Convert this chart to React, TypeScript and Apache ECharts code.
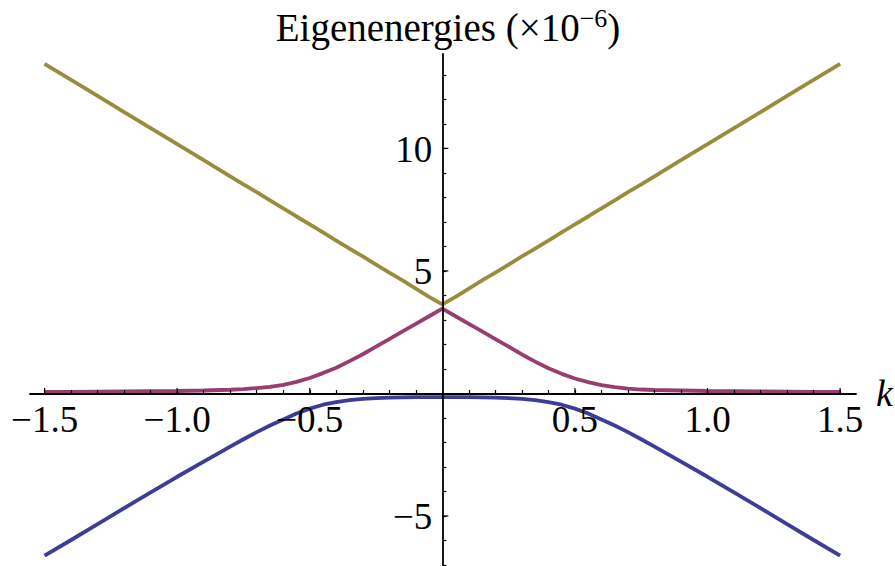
import React, { useEffect, useRef } from "react";
import * as echarts from "echarts";

const kValues = [
  -1.5, -1.4, -1.3, -1.2, -1.1, -1.0, -0.9, -0.8, -0.75, -0.7, -0.65, -0.6, -0.55, -0.5, -0.45, -0.4,
  -0.35, -0.3, -0.25, -0.2, -0.15, -0.1, -0.05, 0, 0.05, 0.1, 0.15, 0.2, 0.25, 0.3, 0.35, 0.4, 0.45,
  0.5, 0.55, 0.6, 0.65, 0.7, 0.75, 0.8, 0.9, 1.0, 1.1, 1.2, 1.3, 1.4, 1.5,
];

const upperLevel = [
  13.45, 12.79, 12.14, 11.48, 10.83, 10.17, 9.52, 8.86, 8.53, 8.21, 7.88, 7.55, 7.22, 6.9, 6.57, 6.24,
  5.91, 5.59, 5.26, 4.93, 4.61, 4.28, 3.94, 3.63, 3.94, 4.28, 4.61, 4.93, 5.26, 5.59, 5.91, 6.24, 6.57,
  6.9, 7.22, 7.55, 7.88, 8.21, 8.53, 8.86, 9.52, 10.17, 10.83, 11.48, 12.14, 12.79, 13.45,
];

const middleLevel = [
  0.06, 0.06, 0.07, 0.08, 0.09, 0.1, 0.12, 0.15, 0.18, 0.22, 0.27, 0.35, 0.47, 0.63, 0.83, 1.05,
  1.32, 1.6, 1.91, 2.22, 2.53, 2.84, 3.15, 3.46, 3.15, 2.84, 2.53, 2.22, 1.91, 1.59, 1.3, 1.03, 0.8,
  0.61, 0.46, 0.34, 0.26, 0.2, 0.16, 0.14, 0.12, 0.1, 0.09, 0.08, 0.07, 0.06, 0.06,
];

const lowerLevel = [
  -6.62, -5.98, -5.33, -4.68, -4.04, -3.4, -2.78, -2.17, -1.87, -1.58, -1.31, -1.06, -0.82, -0.62,
  -0.46, -0.35, -0.27, -0.22, -0.19, -0.17, -0.16, -0.15, -0.15, -0.15, -0.15, -0.15, -0.16, -0.17,
  -0.19, -0.22, -0.27, -0.35, -0.46, -0.62, -0.82, -1.06, -1.31, -1.58, -1.87, -2.17, -2.78, -3.4,
  -4.04, -4.68, -5.33, -5.98, -6.62,
];

const xMajorTicks = [-1.5, -1.0, -0.5, 0.5, 1.0, 1.5];
const xMinorTicks = [
  -1.4, -1.3, -1.2, -1.1, -0.9, -0.8, -0.7, -0.6, -0.4, -0.3, -0.2, -0.1, 0.1, 0.2, 0.3, 0.4, 0.6,
  0.7, 0.8, 0.9, 1.1, 1.2, 1.3, 1.4,
];
const yMajorTicks = [-5, 5, 10];
const yMinorTicks = [-7, -6, -4, -3, -2, -1, 1, 2, 3, 4, 6, 7, 8, 9, 11, 12, 13];

const FONT = "'Liberation Serif', 'DejaVu Serif', serif";
const fmtX = (v: number) => (v < 0 ? "\u2212" : "") + Math.abs(v).toFixed(1);
const fmtY = (v: number) => (v < 0 ? "\u2212" : "") + Math.abs(v).toString();

export default function App() {
  const ref = useRef<HTMLDivElement>(null);
  useEffect(() => {
    document.body.style.margin = "0";
    if (!ref.current) return;
    const chart = echarts.init(ref.current, undefined, { renderer: "svg" });
    const pairs = (ys: number[]) => kValues.map((k, i) => [k, ys[i]]);
    const axisLine = { show: true, onZero: true, lineStyle: { color: "#000", width: 1.8 } };
    const tickStyle = { color: "#000", width: 1.2 };

    // Major ticks and tick labels, placed through the axes' own scales (api.coord)
    const majorSeries = (values: number[], dir: "x" | "y", len: number) => ({
      type: "custom",
      z: 6,
      silent: true,
      clip: false,
      data: values.map((v) => (dir === "x" ? [v, 0] : [0, v])),
      renderItem: (params: any, api: any) => {
        const v = dir === "x" ? api.value(0) : api.value(1);
        const p = api.coord([api.value(0), api.value(1)]);
        const tick =
          dir === "x"
            ? { x1: p[0], y1: p[1], x2: p[0], y2: p[1] - len }
            : { x1: p[0], y1: p[1], x2: p[0] + len, y2: p[1] };
        const label =
          dir === "x"
            ? {
                type: "text",
                x: p[0],
                y: p[1] + 26,
                style: { text: fmtX(v), font: `37px ${FONT}`, fill: "#000", align: "center", verticalAlign: "middle" },
              }
            : {
                type: "text",
                x: p[0] - 10,
                y: p[1] + 1,
                style: { text: fmtY(v), font: `37px ${FONT}`, fill: "#000", align: "right", verticalAlign: "middle" },
              };
        return {
          type: "group",
          children: [{ type: "line", shape: tick, style: { stroke: "#000", lineWidth: 1.2 } }, label],
        };
      },
    });

    chart.setOption({
      animation: false,
      backgroundColor: "#fff",
      title: {
        text: "{a|Eigenenergies (\u00d710}{s|\u22126}{a|)}",
        left: 443,
        top: 0,
        textAlign: "center",
        textStyle: {
          fontWeight: "normal",
          rich: {
            a: { fontFamily: FONT, fontSize: 39, fontWeight: "normal", color: "#000", lineHeight: 44 },
            s: { fontFamily: FONT, fontSize: 26, fontWeight: "normal", color: "#000", lineHeight: 25, verticalAlign: "top" },
          },
        },
      },
      grid: { left: 30, right: 39, top: 54, bottom: 1, containLabel: false, outerBoundsMode: "none" },
      xAxis: {
        type: "value",
        min: -1.555,
        max: 1.56,
        position: "bottom",
        z: 5,
        axisLine,
        splitLine: { show: false },
        axisTick: { show: true, inside: true, length: 3.5, customValues: [...xMajorTicks, ...xMinorTicks], lineStyle: tickStyle },
        axisLabel: { show: false },
        name: "k",
        nameLocation: "end",
        nameGap: 20,
        nameTextStyle: { fontFamily: FONT, fontSize: 38, fontStyle: "italic", color: "#000", verticalAlign: "middle" },
      },
      yAxis: {
        type: "value",
        min: -7,
        max: 13.85,
        position: "left",
        z: 5,
        axisLine,
        splitLine: { show: false },
        axisTick: { show: true, inside: true, length: 4, customValues: [...yMajorTicks, ...yMinorTicks], lineStyle: tickStyle },
        axisLabel: { show: false },
      },
      series: [
        {
          type: "line",
          data: pairs(upperLevel),
          showSymbol: false,
          z: 2,
          lineStyle: { color: "#998c3d", width: 3.8 },
        },
        {
          type: "line",
          data: pairs(middleLevel),
          showSymbol: false,
          z: 2,
          lineStyle: { color: "#993d71", width: 3.8 },
        },
        {
          type: "line",
          data: pairs(lowerLevel),
          showSymbol: false,
          z: 2,
          lineStyle: { color: "#3d3d99", width: 3.8 },
        },
        majorSeries(xMajorTicks, "x", 5.5),
        majorSeries(yMajorTicks, "y", 6),
      ],
    });
    return () => chart.dispose();
  }, []);
  return <div ref={ref} style={{ width: 895, height: 566 }} />;
}
